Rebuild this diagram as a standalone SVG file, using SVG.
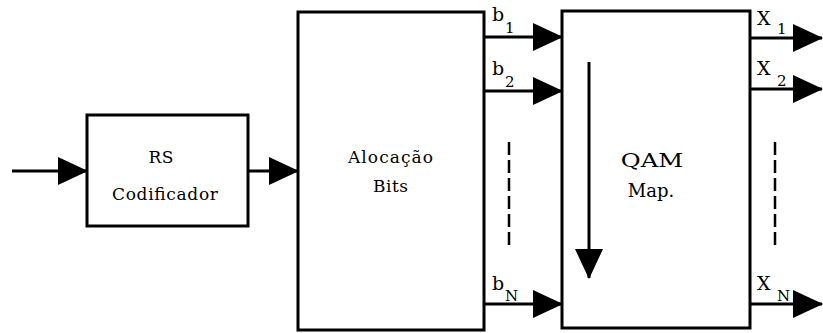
<svg xmlns="http://www.w3.org/2000/svg" width="823" height="333" viewBox="0 0 823 333">
<style>
.box{fill:#fff;stroke:#000;stroke-width:3}
.ln{stroke:#000;stroke-width:3;fill:none}
.dash{stroke:#000;stroke-width:2.5;stroke-dasharray:13 5;fill:none}
text{font-family:'DejaVu Serif','Liberation Serif',serif;fill:#000}
.t{font-size:17px;text-anchor:middle}
.l{font-size:19px}
.s{font-size:15px}
</style>
<defs>
<marker id="ah" markerUnits="userSpaceOnUse" viewBox="0 0 30 28" refX="29" refY="14" markerWidth="30" markerHeight="28" orient="auto">
<path d="M0,0 L30,14 L0,28 Z" fill="#000"/>
</marker>
</defs>
<g id="rs">
<rect class="box" x="87" y="115" width="161" height="111"/>
<text class="t" x="161" y="163" textLength="25">RS</text>
<text class="t" x="165" y="200" textLength="106">Codificador</text>
</g>
<g id="alocacao">
<rect class="box" x="298" y="12" width="186" height="318"/>
<text class="t" x="390.5" y="163" textLength="85">Alocação</text>
<text class="t" x="390.5" y="192" textLength="35">Bits</text>
</g>
<g id="qam">
<rect class="box" x="562" y="11" width="188" height="317"/>
<text class="t" transform="translate(652,167) scale(1.35,1)" x="0" y="0" style="font-size:18px">QAM</text>
<text class="t" x="651" y="197" style="font-size:18px">Map.</text>
</g>
<g id="connectors">
<line class="ln" x1="12" y1="171" x2="87" y2="171" marker-end="url(#ah)"/>
<line class="ln" x1="248" y1="171" x2="298" y2="171" marker-end="url(#ah)"/>
<line class="ln" x1="484" y1="37" x2="562" y2="37" marker-end="url(#ah)"/>
<line class="ln" x1="484" y1="91" x2="562" y2="91" marker-end="url(#ah)"/>
<line class="ln" x1="484" y1="304" x2="562" y2="304" marker-end="url(#ah)"/>
<line class="dash" x1="509" y1="142" x2="509" y2="248"/>
<line class="ln" x1="589" y1="62" x2="589" y2="278" marker-end="url(#ah)"/>
<line class="ln" x1="750" y1="38" x2="822" y2="38" marker-end="url(#ah)"/>
<line class="ln" x1="750" y1="89" x2="822" y2="89" marker-end="url(#ah)"/>
<line class="ln" x1="750" y1="304" x2="822" y2="304" marker-end="url(#ah)"/>
<line class="dash" x1="775" y1="142" x2="775" y2="248"/>
</g>
<g id="labels">
<text class="l" x="492" y="21">b<tspan class="s" x="505" y="33">1</tspan></text>
<text class="l" x="492" y="75">b<tspan class="s" x="505" y="87">2</tspan></text>
<text class="l" x="492" y="290">b<tspan class="s" x="505" y="301">N</tspan></text>
<text class="l" x="757" y="25">X<tspan class="s" x="777" y="34">1</tspan></text>
<text class="l" x="757" y="75">X<tspan class="s" x="777" y="86">2</tspan></text>
<text class="l" x="757" y="290">X<tspan class="s" x="777" y="301">N</tspan></text>
</g>
</svg>
